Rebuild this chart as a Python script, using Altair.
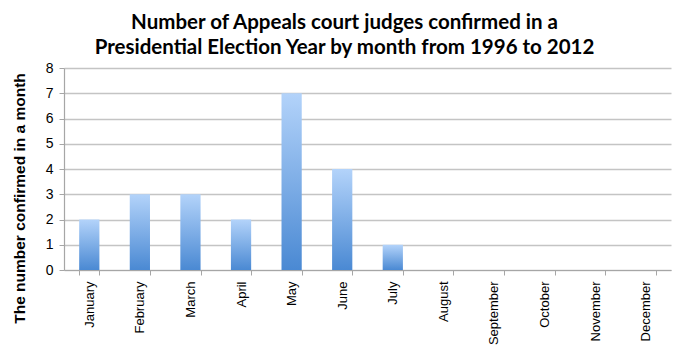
import altair as alt
import pandas as pd

months = ["January", "February", "March", "April", "May", "June", "July",
          "August", "September", "October", "November", "December"]
confirmed = [2, 3, 3, 2, 7, 4, 1, 0, 0, 0, 0, 0]
y_ticks = [0, 1, 2, 3, 4, 5, 6, 7, 8]

df = pd.DataFrame({"month": months, "confirmed": confirmed})

grad = alt.Gradient(
    gradient="linear",
    stops=[alt.GradientStop(color="#b3d3fa", offset=0),
           alt.GradientStop(color="#4a89d3", offset=1)],
    x1=0, x2=0, y1=0, y2=1,
)

chart = alt.Chart(df).mark_bar(color=grad).encode(
    x=alt.X("month:N", sort=months, title=None,
            scale=alt.Scale(paddingInner=0.6, paddingOuter=0.3),
            axis=alt.Axis(labelAngle=-90, labelFont="Liberation Sans", labelFontSize=13,
                          labelColor="#000000", labelPadding=6, tickBand="extent",
                          tickSize=5, tickColor="#a6a6a6", domainColor="#a6a6a6",
                          domainWidth=1.2, grid=False)),
    y=alt.Y("confirmed:Q", title="The number confirmed in a month",
            scale=alt.Scale(domain=[0, 8], nice=False),
            axis=alt.Axis(values=y_ticks, labelFont="Liberation Sans", labelFontSize=14,
                          labelColor="#000000", labelPadding=6, tickSize=5,
                          tickColor="#a6a6a6", domainColor="#a6a6a6", domainWidth=1.2,
                          gridColor="#c4c4c4", gridWidth=1.3,
                          titleFont="Liberation Sans", titleFontSize=15.5,
                          titleFontWeight="bold", titleColor="#000000",
                          titlePadding=18, titleY=130)),
).properties(
    width=607,
    height=202,
    title=alt.TitleParams(
        text=["Number of Appeals court judges confirmed in a",
              "Presidential Election Year by month from 1996 to 2012"],
        font="Lato", fontSize=20.5, fontWeight="bold", color="#000000",
        lineHeight=25, anchor="middle", dx=-23, offset=3,
    ),
    autosize=alt.AutoSizeParams(type="none"),
    padding={"left": 56, "top": 60, "right": 6, "bottom": 80},
).configure_view(stroke=None)

chart.save("out.html", embed_options={"renderer": "svg", "actions": False})
